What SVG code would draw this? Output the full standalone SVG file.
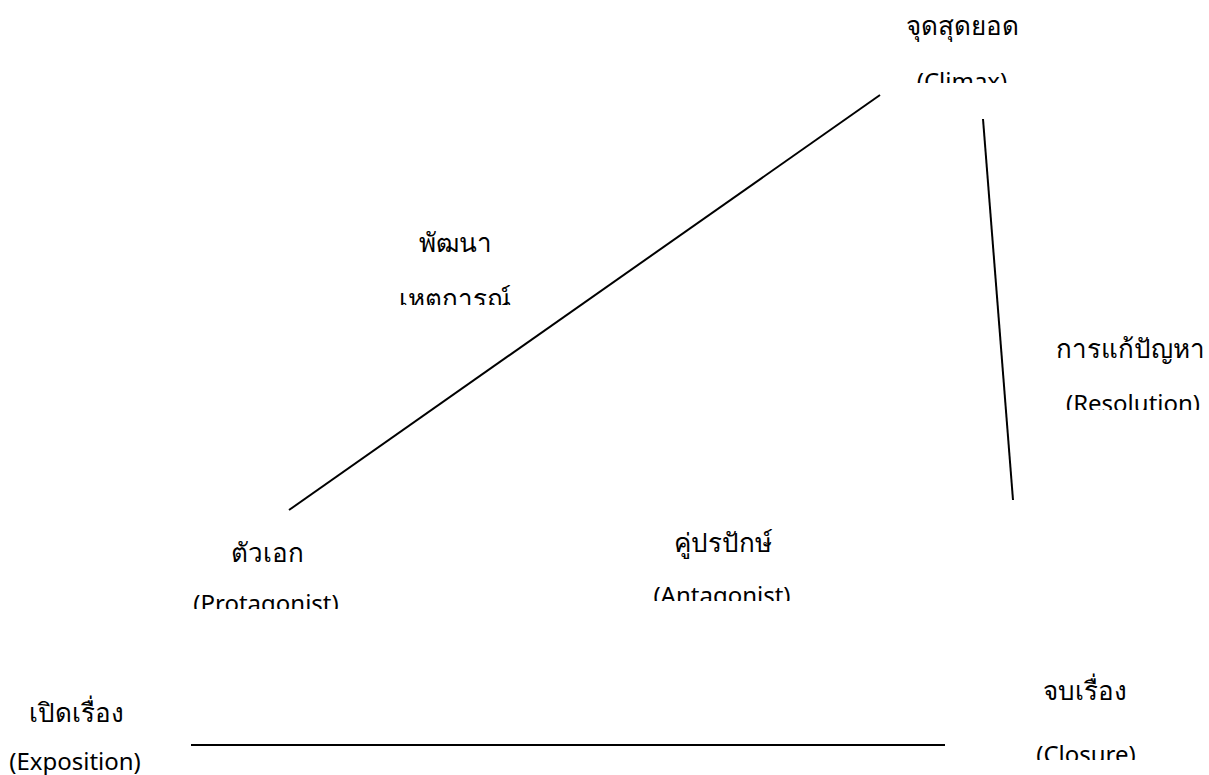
<svg xmlns="http://www.w3.org/2000/svg" width="1209" height="775" viewBox="0 0 1209 775">
<style>
text{font-family:"Noto Sans","DejaVu Sans",sans-serif;font-size:26px;fill:#000;text-anchor:middle}
text.en{font-size:24px}
.ln{stroke:#000;stroke-width:2;fill:none}
</style>
<defs>
<clipPath id="c1"><rect x="850" y="0" width="250" height="83"/></clipPath>
<clipPath id="c2"><rect x="380" y="200" width="160" height="105"/></clipPath>
<clipPath id="c3"><rect x="1040" y="370" width="169" height="40"/></clipPath>
<clipPath id="c4"><rect x="180" y="570" width="180" height="39"/></clipPath>
<clipPath id="c5"><rect x="640" y="565" width="170" height="36"/></clipPath>
<clipPath id="c6"><rect x="1020" y="720" width="140" height="40"/></clipPath>
</defs>
<rect width="1209" height="775" fill="#fff"/>
<g id="connectors">
<line class="ln" x1="289" y1="510" x2="880" y2="95"/>
<line class="ln" x1="983" y1="119" x2="1013" y2="500"/>
<line class="ln" x1="191" y1="745" x2="945" y2="745"/>
</g>
<g id="climax">
<text x="962" y="35">จุดสุดยอด</text>
<text class="en" x="962" y="90" clip-path="url(#c1)">(Climax)</text>
</g>
<g id="rising">
<text x="455" y="252">พัฒนา</text>
<text x="455" y="308" clip-path="url(#c2)">เหตการณ์</text>
</g>
<g id="resolution">
<text x="1130" y="358">การแก้ปัญหา</text>
<text class="en" x="1133" y="412" clip-path="url(#c3)">(Resolution)</text>
</g>
<g id="protagonist">
<text x="267" y="562">ตัวเอก</text>
<text class="en" x="266" y="612" clip-path="url(#c4)">(Protagonist)</text>
</g>
<g id="antagonist">
<text x="723" y="552">คู่ปรปักษ์</text>
<text class="en" x="722" y="604" clip-path="url(#c5)">(Antagonist)</text>
</g>
<g id="exposition">
<text x="76" y="722">เปิดเรื่อง</text>
<text class="en" x="75" y="770">(Exposition)</text>
</g>
<g id="closure">
<text x="1085" y="700">จบเรื่อง</text>
<text class="en" x="1086" y="763" clip-path="url(#c6)">(Closure)</text>
</g>
</svg>
